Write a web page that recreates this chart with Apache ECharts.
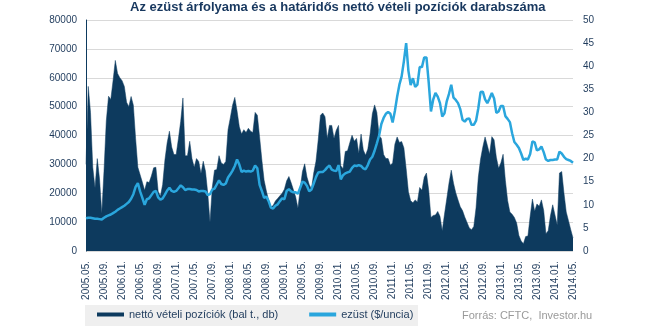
<!DOCTYPE html>
<html><head><meta charset="utf-8">
<script src="https://cdn.jsdelivr.net/npm/echarts@6/dist/echarts.min.js"></script>
<style>html,body{margin:0;padding:0;background:#fff}#c{width:645px;height:328px}</style>
</head><body><div id="c"></div><script>
// Semi-monthly points, 2005.05. – 2014.05.
const startYear = 2005, startMonth = 5;
const tickLabels = ['2005.05.','2005.09.','2006.01.','2006.05.','2006.09.','2007.01.','2007.05.','2007.09.','2008.01.','2008.05.','2008.09.','2009.01.','2009.05.','2009.09.','2010.01.','2010.05.','2010.09.','2011.01.','2011.05.','2011.09.','2012.01.','2012.05.','2012.09.','2013.01.','2013.05.','2013.09.','2014.01.','2014.05.'];
const positions = [
30000,57000,48000,29000,21800,32000,25000,13000,28000,45000,53600,52500,59000,66000,61500,60000,
59000,57000,51500,50000,53500,50500,39000,29000,26400,23800,21000,24000,23700,26000,28800,29000,
20700,19000,23000,31500,37500,41500,36000,33400,33400,39000,44900,53000,33000,33000,38000,32000,
29000,32000,31000,26800,31100,27600,20000,10000,22000,28000,28200,33000,30500,30000,31000,42000,
46100,50500,53200,48500,43000,40500,42000,41000,42500,41500,41000,48000,47000,39500,31500,24500,
20800,17500,15200,15800,17300,18200,19100,20000,21400,24300,25800,23600,21200,18700,14800,21500,
27500,30200,25600,23000,21500,27000,31100,38500,47000,47800,46500,39000,43500,43500,39000,41800,
43500,29500,28500,34500,34700,37500,40100,38000,39000,33800,40500,35000,33200,35300,40500,47500,
50600,48000,40000,39000,33400,32000,32000,29700,30500,37000,39500,37600,37900,35700,28500,20500,
17400,16700,17700,17000,22000,21000,25500,27000,21000,11600,12300,12500,13700,12000,7000,12700,
18000,23500,28000,23500,20200,17700,15300,14000,11800,9900,8000,7400,8500,15000,25500,31800,
36000,39500,36600,33500,39600,38500,32500,28700,30500,33500,24500,17500,13500,12700,11600,9700,
5400,3500,2500,5000,5200,12000,18000,13800,16300,15500,17700,14000,6000,7000,12200,16000,
12500,9000,27000,27500,20000,13500,10500,7400,4500
];
const silver = [
7.1,7.2,7.2,7.1,7.0,7.0,6.9,6.8,7.2,7.5,7.7,7.9,8.2,8.5,8.9,9.2,
9.5,9.8,10.2,10.6,11.3,12.3,13.9,14.7,12.9,11.5,10.0,11.2,11.4,12.1,12.8,13.0,
11.6,11.1,11.4,12.2,13.1,13.7,13.0,12.8,13.0,13.6,14.2,13.8,13.2,13.4,13.4,13.3,
13.3,13.2,12.9,13.0,13.0,12.9,12.1,12.3,13.3,13.5,14.4,15.3,14.5,14.3,14.6,15.9,
16.6,17.4,18.4,19.8,18.7,17.1,17.4,17.2,17.3,17.2,17.4,18.5,17.9,14.3,13.0,11.5,
11.8,10.8,9.4,9.2,9.8,10.1,10.8,11.4,11.2,13.0,13.4,12.9,12.7,12.7,12.4,13.7,
15.0,14.8,14.1,12.9,13.3,14.6,16.0,17.0,17.1,17.1,17.5,18.1,18.5,17.6,17.4,17.3,
18.6,15.5,16.4,16.8,17.0,17.2,18.0,18.5,18.4,18.6,18.4,17.9,17.7,18.6,19.8,20.4,
21.7,23.3,25.0,27.5,28.8,29.7,30.1,29.7,27.8,30.3,33.4,36.0,37.8,41.1,45.0,39.0,
35.9,37.4,35.5,36.0,39.8,39.8,41.9,41.9,36.5,30.2,32.8,34.2,33.4,32.0,29.1,29.8,
32.4,34.0,36.0,33.2,32.7,32.0,30.7,28.4,28.0,28.6,28.7,27.3,27.3,28.2,30.9,34.4,
34.5,32.8,32.0,33.0,34.2,33.0,29.9,30.2,31.4,31.4,29.2,28.6,27.9,25.5,23.6,23.0,
22.3,21.1,19.7,20.0,19.8,21.0,23.7,23.5,21.8,22.0,22.6,21.4,19.8,19.5,19.7,19.7,
19.8,19.8,21.5,21.1,20.4,19.9,19.7,19.5,19.1
];
const categories = [];
for (let i = 0; i < positions.length; i++) {
  const m = startMonth - 1 + Math.floor(i / 2);
  const y = startYear + Math.floor(m / 12);
  const mm = (m % 12) + 1;
  categories.push(y + '.' + String(mm).padStart(2, '0') + '.' + (i % 2 ? '16' : '01'));
}
const navy = '#0d3a5e', blue = '#2aa6dd', txt = '#1f3b5c', ff = 'Liberation Sans';
const chart = echarts.init(document.getElementById('c'), null, {renderer: 'canvas'});
chart.setOption({
  animation: false,
  textStyle: {fontFamily: ff},
  title: {text: 'Az ezüst árfolyama és a határidős nettó vételi pozíciók darabszáma', left: 130, top: 1, padding: 0,
    textStyle: {fontFamily: ff, fontSize: 13, fontWeight: 'bold', color: '#17375e'}},
  grid: {left: 86, right: 72, top: 20, bottom: 77},
  graphic: [
    {type: 'rect', left: 85, top: 305, shape: {width: 333, height: 21}, style: {fill: '#efefef'}, z: 0},
    {type: 'text', left: 462, top: 310, style: {text: 'Forrás: CFTC,  Investor.hu', fill: '#9a9a9a', font: '11px "Liberation Sans"'}}
  ],
  legend: {top: 309, left: 97, padding: 0, itemGap: 31, itemWidth: 27, itemHeight: 4, z: 5,
    textStyle: {fontSize: 11, color: txt, fontFamily: ff},
    data: [{name: 'nettó vételi pozíciók (bal t., db)', icon: 'rect'}, {name: 'ezüst ($/uncia)', icon: 'rect'}]},
  xAxis: {type: 'category', boundaryGap: false, data: categories,
    axisLine: {show: false}, axisTick: {show: false},
    axisLabel: {rotate: 90, interval: 7, margin: 10, fontSize: 10, color: txt, fontFamily: ff,
      formatter: (v, idx) => tickLabels[Math.round(idx / 8)]}},
  yAxis: [
    {type: 'value', min: 0, max: 80000, interval: 10000,
      axisLine: {show: true, lineStyle: {color: navy, width: 1}}, axisTick: {show: false},
      splitLine: {lineStyle: {color: '#d9d9d9', width: 1}},
      axisLabel: {fontSize: 10, color: txt, margin: 9, fontFamily: ff, formatter: v => String(v)}},
    {type: 'value', min: 0, max: 50, interval: 5, position: 'right',
      axisLine: {show: false}, axisTick: {show: false}, splitLine: {show: false},
      axisLabel: {fontSize: 10, color: txt, margin: 10, fontFamily: ff}}
  ],
  series: [
    {name: 'nettó vételi pozíciók (bal t., db)', type: 'line', yAxisIndex: 0, data: positions, symbol: 'none',
      itemStyle: {color: navy}, lineStyle: {width: 0.5, color: navy}, areaStyle: {color: navy, opacity: 1}, z: 2},
    {name: 'ezüst ($/uncia)', type: 'line', yAxisIndex: 1, data: silver, symbol: 'none',
      itemStyle: {color: blue}, lineStyle: {width: 2.5, color: blue}, z: 3}
  ]
});
</script></body></html>
